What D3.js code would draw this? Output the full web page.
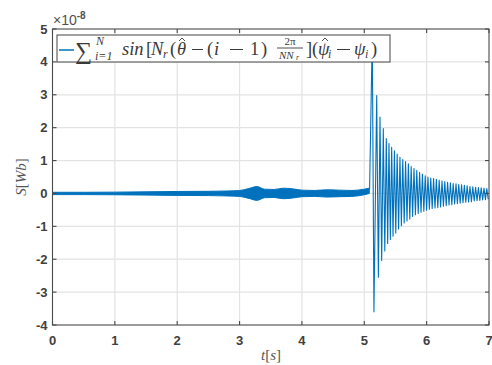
<!DOCTYPE html>
<html><head><meta charset="utf-8">
<script src="https://cdn.jsdelivr.net/npm/d3@7"></script>
<style>body{margin:0;background:#fff}</style></head>
<body><svg id="c" width="492" height="365"></svg>
<script>
// ---- data (values in units of 1e-8 Wb) ----
const xTicks=[0,1,2,3,4,5,6,7];
const yTicks=[-4,-3,-2,-1,0,1,2,3,4,5];
// envelope of the small oscillation before the jump
const preT  =[0,0.5,1.0,1.5,2.0,2.5,2.8,3.0,3.15,3.28,3.4,3.55,3.7,3.85,4.0,4.2,4.4,4.6,4.8,5.0,5.08];
const preUp =[0.035,0.035,0.04,0.05,0.06,0.065,0.075,0.09,0.15,0.21,0.13,0.12,0.16,0.14,0.10,0.09,0.11,0.10,0.09,0.13,0.16];
const preLo =[-0.035,-0.035,-0.04,-0.05,-0.06,-0.065,-0.075,-0.09,-0.15,-0.21,-0.13,-0.12,-0.16,-0.14,-0.10,-0.09,-0.11,-0.10,-0.09,-0.04,0.0];
// decaying oscillation after the jump: maxima and minima
const peakT =[5.128,5.199,5.252,5.305,5.353,5.396,5.439,5.483,5.527,5.572,5.617,5.662,5.707,5.752,5.797,5.842,5.887,5.932,5.977,6.021,6.066,6.111,6.156,6.201,6.246,6.291,6.336,6.381,6.426,6.471,6.515,6.560,6.605,6.650,6.695,6.740,6.785,6.830,6.875,6.920,6.965];
const peakV =[4.8,2.98,2.32,1.97,1.67,1.52,1.40,1.30,1.20,1.10,1.03,0.97,0.90,0.82,0.76,0.70,0.64,0.59,0.54,0.50,0.47,0.45,0.43,0.40,0.38,0.36,0.34,0.32,0.30,0.29,0.27,0.26,0.25,0.23,0.21,0.20,0.19,0.18,0.17,0.16,0.15];
const troughT=[5.155,5.226,5.279,5.329,5.375,5.418,5.461,5.505,5.550,5.595,5.640,5.685,5.730,5.775,5.820,5.865,5.910,5.955,5.999,6.044,6.089,6.134,6.179,6.224,6.269,6.314,6.359,6.404,6.449,6.493,6.538,6.583,6.628,6.673,6.718,6.763,6.808,6.853,6.898,6.943,6.988];
const troughV=[-3.6,-2.55,-2.04,-1.75,-1.52,-1.40,-1.30,-1.20,-1.08,-0.98,-0.90,-0.84,-0.78,-0.70,-0.65,-0.61,-0.57,-0.54,-0.51,-0.48,-0.46,-0.44,-0.43,-0.41,-0.39,-0.37,-0.35,-0.34,-0.32,-0.31,-0.30,-0.28,-0.27,-0.26,-0.25,-0.23,-0.22,-0.21,-0.20,-0.19,-0.18];
const startT=5.085, startV=0.12;

// ---- layout ----
const L=52.5,R=489,T=29,B=325;
const svg=d3.select('#c');
const x=d3.scaleLinear().domain([0,7]).range([L,R]);
const y=d3.scaleLinear().domain([-4,5]).range([B,T]);
const blue='#0072BD', axc='#4a4a4a', gridc='#e3e3e3', lab='#404040';

// grid
svg.append('g').selectAll('line').data(xTicks.slice(1,-1)).join('line')
  .attr('x1',d=>x(d)).attr('x2',d=>x(d)).attr('y1',T).attr('y2',B)
  .attr('stroke',gridc).attr('stroke-width',1.2);
svg.append('g').selectAll('line').data(yTicks.slice(1,-1)).join('line')
  .attr('y1',d=>y(d)).attr('y2',d=>y(d)).attr('x1',L).attr('x2',R)
  .attr('stroke',gridc).attr('stroke-width',1.2);

// clip
svg.append('clipPath').attr('id','clip').append('rect')
  .attr('x',L).attr('y',T).attr('width',R-L).attr('height',B-T);
const plot=svg.append('g').attr('clip-path','url(#clip)');

const pre=preT.map((t,i)=>({t,u:preUp[i],l:preLo[i]}));
plot.append('path').datum(pre)
  .attr('d',d3.area().x(d=>x(d.t)).y0(d=>y(d.l)).y1(d=>y(d.u)).curve(d3.curveMonotoneX))
  .attr('fill',blue).attr('stroke',blue).attr('stroke-width',1);

const burst=[{t:startT,v:startV}];
peakT.forEach((t,i)=>{burst.push({t,v:peakV[i]});burst.push({t:troughT[i],v:troughV[i]});});
plot.append('path').datum(burst)
  .attr('d',d3.line().x(d=>x(d.t)).y(d=>y(d.v)))
  .attr('fill','none').attr('stroke',blue).attr('stroke-width',1.1).attr('stroke-linejoin','round');

// axes with inward ticks
const tl=4;
const ax=svg.append('g').attr('stroke',axc).attr('stroke-width',1.1);
ax.append('rect').attr('x',L).attr('y',T).attr('width',R-L).attr('height',B-T).attr('fill','none');
xTicks.forEach(d=>{
  ax.append('line').attr('x1',x(d)).attr('x2',x(d)).attr('y1',B).attr('y2',B-tl);
  ax.append('line').attr('x1',x(d)).attr('x2',x(d)).attr('y1',T).attr('y2',T+tl);
});
yTicks.forEach(d=>{
  ax.append('line').attr('y1',y(d)).attr('y2',y(d)).attr('x1',L).attr('x2',L+tl);
  ax.append('line').attr('y1',y(d)).attr('y2',y(d)).attr('x1',R).attr('x2',R-tl);
});

const tf='"Liberation Sans", Arial, sans-serif';
svg.append('g').selectAll('text').data(xTicks).join('text')
  .attr('x',d=>x(d)).attr('y',B+20).attr('text-anchor','middle')
  .style('font-family',tf).style('font-weight','bold').style('font-size','13px').attr('fill',lab)
  .text(d=>d);
svg.append('g').selectAll('text').data(yTicks).join('text')
  .attr('x',L-5).attr('y',d=>y(d)+4.5).attr('text-anchor','end')
  .style('font-family',tf).style('font-weight','bold').style('font-size','13px').attr('fill',lab)
  .text(d=>d);
// exponent
const ex=svg.append('text').attr('x',53).attr('y',24.5)
  .style('font-family',tf).style('font-size','14px').attr('fill','#505050');
ex.append('tspan').text('×10');
ex.append('tspan').attr('dy',-6).style('font-size','10px').style('font-weight','bold').text('-8');

const serif='"Liberation Serif","DejaVu Serif",serif';
// x label
const xl=svg.append('text').attr('x',271).attr('y',360).attr('text-anchor','middle')
  .style('font-family',serif).style('font-size','15px').attr('fill','#555');
xl.append('tspan').style('font-style','italic').text('t');
xl.append('tspan').text('[');
xl.append('tspan').style('font-style','italic').text('s');
xl.append('tspan').text(']');
// y label
const yl=svg.append('text').attr('transform','translate(26,177) rotate(-90)').attr('text-anchor','middle')
  .style('font-family',serif).style('font-size','15px').attr('fill','#555');
yl.append('tspan').style('font-style','italic').text('S');
yl.append('tspan').text('[');
yl.append('tspan').style('font-style','italic').text('Wb');
yl.append('tspan').text(']');

// legend
const lg=svg.append('g');
lg.append('rect').attr('x',57).attr('y',35).attr('width',333).attr('height',27)
  .attr('fill','#fff').attr('stroke','#555').attr('stroke-width',1.1);
lg.append('line').attr('x1',59).attr('x2',74).attr('y1',50).attr('y2',50).attr('stroke',blue).attr('stroke-width',1.5);
const tc='#3a3a3a';
const base=55;
function put(s,px,o={}){
  return lg.append('text').attr('x',px).attr('y',o.y!=null?o.y:base)
    .style('font-family',serif).style('font-size',(o.size||18.5)+'px')
    .style('font-style',o.it===false?'normal':'italic').attr('fill',tc)
    .attr('text-anchor',o.anchor||'start').text(s);
}
function hat(cx,yy){
  lg.append('path').attr('d',`M${cx-3},${yy+2} L${cx},${yy-1} L${cx+3},${yy+2}`)
    .attr('fill','none').attr('stroke',tc).attr('stroke-width',0.9);
}
function minus(x1,x2){
  lg.append('line').attr('x1',x1).attr('x2',x2).attr('y1',base-5.5).attr('y2',base-5.5)
    .attr('stroke',tc).attr('stroke-width',1);
}
put('∑',75,{size:24,it:false,y:59});
put('N',96,{size:12,y:45});
put('i=1',95,{size:12,y:60});
put('sin',122);put('[',146,{it:false});put('N',151);put('r',163,{size:12,y:58});
put('(',170,{it:false});put('θ',177);hat(182,39);
minus(192,203);
put('(',207,{it:false});put('i',214);
minus(230,243);
put('1',250,{it:false});put(')',261,{it:false});
// fraction
lg.append('line').attr('x1',277).attr('x2',303).attr('y1',48).attr('y2',48).attr('stroke',tc).attr('stroke-width',0.9);
put('2π',290,{size:11,it:false,anchor:'middle',y:45});
put('NN',279,{size:11,y:58.5});put('r',296,{size:8,y:60});
put(']',306,{it:false});put('(',312,{it:false});put('ψ',318);hat(325,39);put('i',328,{size:12,y:58});
minus(337,350);
put('ψ',354);put('i',365,{size:12,y:58});put(')',371,{it:false});
</script></body></html>
